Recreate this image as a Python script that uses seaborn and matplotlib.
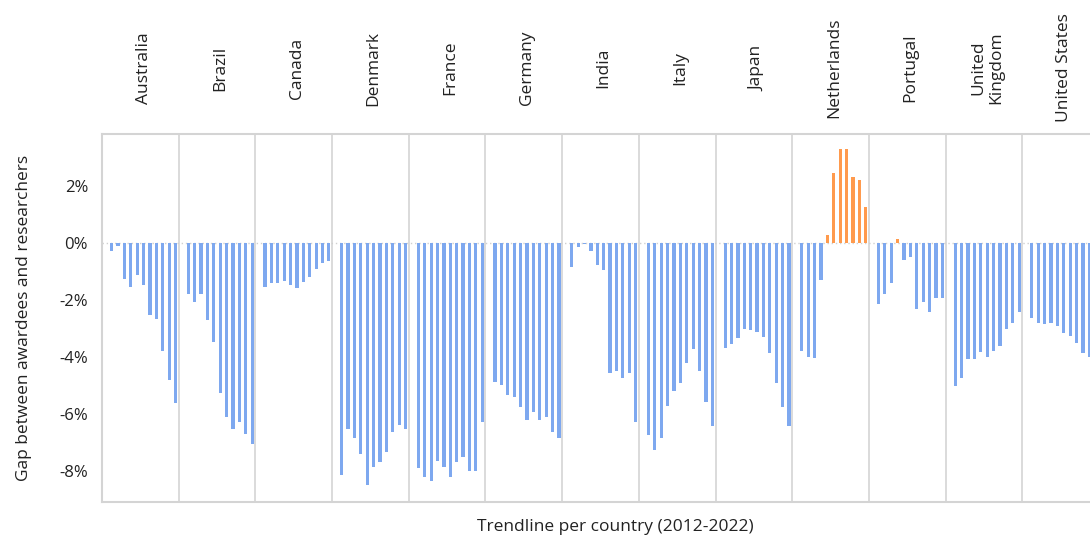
import numpy as np
import pandas as pd
import matplotlib
matplotlib.use("Agg")
import matplotlib.pyplot as plt
import seaborn as sns

countries = ["Australia", "Brazil", "Canada", "Denmark", "France", "Germany", "India",
             "Italy", "Japan", "Netherlands", "Portugal", "United\nKingdom", "United States"]
years = list(range(2012, 2023))

# gap between awardees and researchers (%), 2012-2022 per country
australia = [-0.29, -0.09, -1.25, -1.52, -1.11, -1.47, -2.53, -2.67, -3.77, -4.80, -5.59]
brazil = [-1.79, -2.05, -1.79, -2.71, -3.46, -5.24, -6.11, -6.53, -6.26, -6.69, -7.04]
canada = [-1.52, -1.40, -1.40, -1.31, -1.47, -1.57, -1.35, -1.17, -0.90, -0.68, -0.63]
denmark = [-8.15, -6.51, -6.82, -7.39, -8.50, -7.84, -7.66, -7.31, -6.64, -6.39, -6.51]
france = [-7.89, -8.20, -8.36, -7.63, -7.84, -8.19, -7.66, -7.49, -8.01, -8.01, -6.29]
germany = [-4.87, -4.97, -5.32, -5.40, -5.75, -6.20, -5.91, -6.20, -6.11, -6.61, -6.82]
india = [-0.84, -0.14, -0.02, -0.28, -0.76, -0.95, -4.56, -4.47, -4.74, -4.56, -6.29]
italy = [-6.73, -7.25, -6.82, -5.71, -5.18, -4.91, -4.19, -3.72, -4.47, -5.58, -6.41]
japan = [-3.68, -3.54, -3.33, -3.02, -3.06, -3.10, -3.29, -3.85, -4.91, -5.75, -6.41]
netherlands = [-3.77, -3.99, -4.04, -1.29, 0.28, 2.46, 3.30, 3.30, 2.32, 2.22, 1.26]
portugal = [-2.13, -1.78, -1.38, 0.16, -0.58, -0.47, -2.32, -2.08, -2.40, -1.91, -1.91]
united_kingdom = [-5.01, -4.74, -4.07, -4.07, -3.81, -3.99, -3.77, -3.59, -3.02, -2.81, -2.40]
united_states = [-2.63, -2.81, -2.84, -2.81, -2.92, -3.16, -3.24, -3.51, -3.86, -4.00, -4.20]

series = [australia, brazil, canada, denmark, france, germany, india,
          italy, japan, netherlands, portugal, united_kingdom, united_states]

BLUE = "#7ea8ef"
ORANGE = "#ff9a4d"
SLOTS = 12  # one empty slot + 11 years per country

rows = []
for ci, vals in enumerate(series):
    for yi, v in enumerate(vals):
        rows.append({"pos": ci * SLOTS + yi + 1, "gap": v,
                     "sign": "pos" if v > 0 else "neg"})
df = pd.DataFrame(rows)

sns.set_style("white")
plt.rcParams["font.family"] = ["Open Sans", "DejaVu Sans"]

fig = plt.figure(figsize=(10.9, 5.4), dpi=100)
ax = fig.add_axes([102 / 1090, 38 / 540, 997 / 1090, 368 / 540])

sns.barplot(data=df, x="pos", y="gap", hue="sign", palette={"neg": BLUE, "pos": ORANGE},
            native_scale=True, dodge=False, width=0.5, saturation=1, linewidth=0,
            edgecolor="none", legend=False, ax=ax)

n = len(countries)
ax.set_xlim(-0.5, n * SLOTS - 0.5)
ax.set_ylim(-9.08, 3.83)

# panel separators and zero line
for k in range(1, n):
    ax.axvline(k * SLOTS - 0.5, color="#d4d4d4", lw=1.2, zorder=0)
ax.axhline(0, color="#d0d0d0", lw=1, ls=(0, (1, 2)), zorder=0)

for sp in ax.spines.values():
    sp.set_color("#d4d4d4")
    sp.set_linewidth(1.5)

ax.set_xticks([])
ax.set_yticks([2, 0, -2, -4, -6, -8])
ax.set_yticklabels(["2%", "0%", "-2%", "-4%", "-6%", "-8%"], fontsize=12, color="#222222")
ax.tick_params(axis="y", length=0, pad=10)
ax.set_xlabel("")
ax.set_ylabel("Gap between awardees and researchers", fontsize=12.5, color="#222222", labelpad=20)

# country headers above each panel
y_head = 1 + (134 - 68) / 368
for ci, name in enumerate(countries):
    xc = ci * SLOTS + (SLOTS - 1) / 2 + 0.5
    ax.text(xc, y_head, name, transform=ax.get_xaxis_transform(), rotation=90,
            ha="center", va="center", fontsize=12.5, color="#222222",
            linespacing=1.1, clip_on=False)

fig.text(615 / 1090, 1 - 527 / 540, "Trendline per country (2012-2022)",
         ha="center", va="center", fontsize=12.5, color="#222222")

fig.savefig("out.png", dpi=100)
